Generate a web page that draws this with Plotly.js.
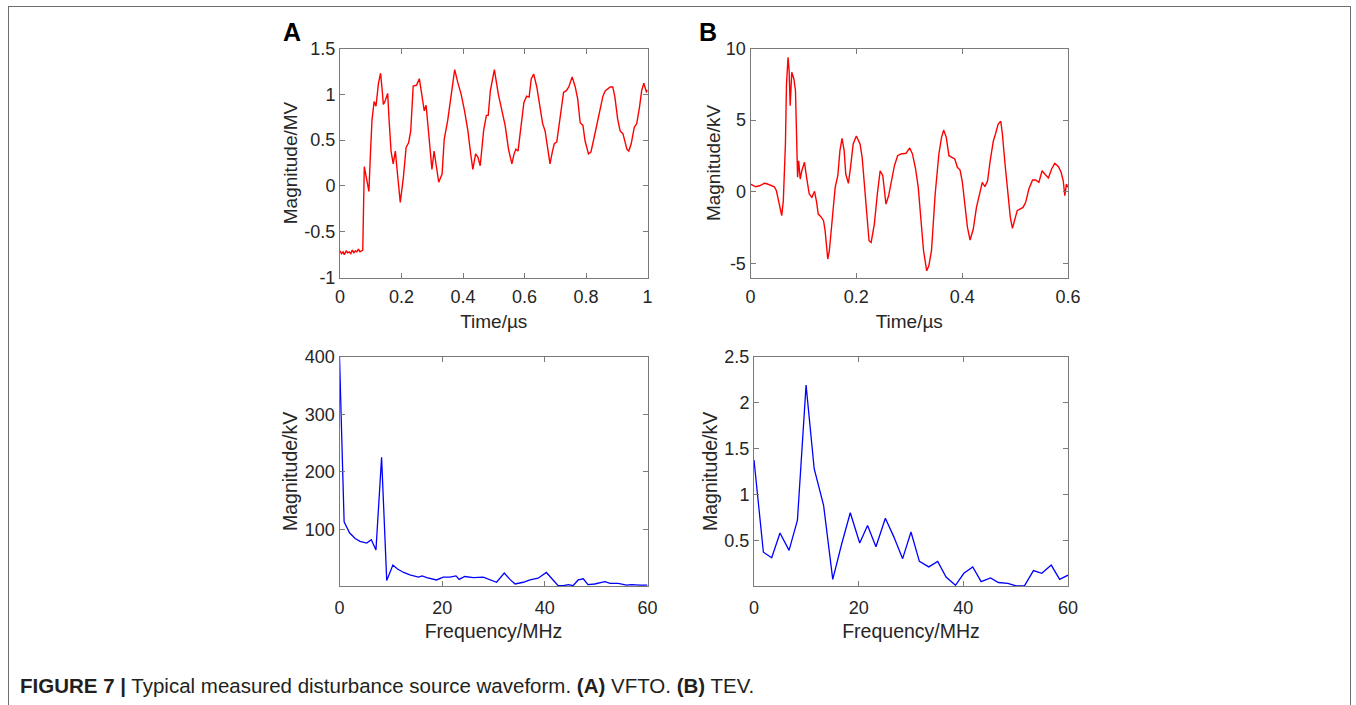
<!DOCTYPE html>
<html>
<head>
<meta charset="utf-8">
<script src="https://cdn.plot.ly/plotly-3.0.1.min.js"></script>
<style>
  html, body { margin: 0; padding: 0; background: #ffffff; }
  #frame { position: absolute; left: 8px; top: 6px; width: 1343px; height: 720px; border: 1.5px solid #6e6e6e; box-sizing: border-box; pointer-events: none; z-index: 2; }
  #chart { position: absolute; left: 0; top: 0; width: 1356px; height: 705px; }
</style>
</head>
<body>
<div id="chart"></div>
<div id="frame"></div>
<script>
// ---------- Panel A (VFTO) time-domain ----------
const timeA = [0, 0.005, 0.010, 0.014, 0.020, 0.025, 0.030, 0.035, 0.040, 0.045, 0.050, 0.055, 0.060, 0.065, 0.070, 0.074,
  0.079, 0.085, 0.090, 0.094, 0.099, 0.104, 0.111, 0.117, 0.125, 0.132, 0.137, 0.141, 0.147, 0.155, 0.160, 0.166, 0.173,
  0.180, 0.187, 0.196, 0.206, 0.215, 0.223, 0.230, 0.238, 0.249, 0.258, 0.267, 0.274, 0.280, 0.290, 0.299, 0.306, 0.312,
  0.321, 0.332, 0.339, 0.350, 0.361, 0.373, 0.383, 0.394, 0.405, 0.416, 0.425, 0.432, 0.441, 0.449, 0.456, 0.467, 0.476,
  0.482, 0.489, 0.502, 0.515, 0.526, 0.537, 0.548, 0.559, 0.566, 0.572, 0.579, 0.588, 0.598, 0.607, 0.615, 0.622, 0.630,
  0.640, 0.650, 0.659, 0.667, 0.674, 0.683, 0.691, 0.697, 0.705, 0.716, 0.727, 0.736, 0.744, 0.755, 0.765, 0.773, 0.781,
  0.790, 0.797, 0.808, 0.816, 0.824, 0.835, 0.844, 0.855, 0.863, 0.870, 0.879, 0.887, 0.894, 0.903, 0.911, 0.920, 0.927,
  0.933, 0.939, 0.947, 0.957, 0.965, 0.974, 0.981, 0.988, 0.997, 1.0];
const vfto = [-0.71, -0.74, -0.72, -0.75, -0.71, -0.73, -0.72, -0.74, -0.70, -0.73, -0.71, -0.72, -0.69, -0.72, -0.71, -0.70,
  0.21, 0.10, -0.02, -0.06, 0.35, 0.72, 0.92, 0.87, 1.12, 1.23, 1.05, 0.89, 0.93, 1.01, 0.70, 0.38, 0.24,
  0.38, 0.13, -0.18, 0.09, 0.42, 0.47, 0.60, 1.09, 1.10, 1.17, 0.97, 0.82, 0.88, 0.50, 0.18, 0.38, 0.24,
  0.04, 0.13, 0.51, 0.71, 0.97, 1.27, 1.13, 1.00, 0.82, 0.60, 0.35, 0.18, 0.35, 0.31, 0.22, 0.60, 0.77,
  0.77, 1.04, 1.27, 1.00, 0.84, 0.66, 0.40, 0.24, 0.35, 0.40, 0.38, 0.64, 0.91, 0.98, 0.97, 1.17, 1.22,
  1.08, 0.86, 0.68, 0.60, 0.46, 0.24, 0.38, 0.46, 0.48, 0.75, 1.02, 1.04, 1.08, 1.19, 1.08, 0.95, 0.69,
  0.66, 0.49, 0.35, 0.37, 0.49, 0.66, 0.78, 0.98, 1.04, 1.06, 1.08, 1.08, 0.97, 0.73, 0.60, 0.57, 0.46,
  0.40, 0.38, 0.46, 0.64, 0.68, 0.86, 1.04, 1.12, 1.02, 1.05];

// ---------- Panel B (TEV) time-domain ----------
const timeB = [0, 0.005, 0.010, 0.017, 0.022, 0.026, 0.031, 0.036, 0.040, 0.045, 0.049, 0.053, 0.059, 0.062, 0.066, 0.068,
  0.071, 0.073, 0.075, 0.078, 0.082, 0.085, 0.087, 0.089, 0.091, 0.094, 0.097, 0.102, 0.106, 0.111, 0.116, 0.121, 0.125,
  0.128, 0.133, 0.138, 0.141, 0.146, 0.149, 0.153, 0.157, 0.160, 0.165, 0.169, 0.173, 0.177, 0.180, 0.185, 0.189, 0.194,
  0.200, 0.207, 0.211, 0.215, 0.220, 0.224, 0.228, 0.234, 0.240, 0.245, 0.250, 0.256, 0.261, 0.266, 0.272, 0.278, 0.284,
  0.294, 0.301, 0.306, 0.312, 0.317, 0.322, 0.327, 0.333, 0.337, 0.342, 0.349, 0.356, 0.361, 0.365, 0.370, 0.375, 0.380,
  0.386, 0.391, 0.396, 0.400, 0.405, 0.410, 0.415, 0.421, 0.427, 0.434, 0.438, 0.443, 0.448, 0.453, 0.459, 0.463, 0.468,
  0.473, 0.476, 0.481, 0.486, 0.491, 0.495, 0.499, 0.504, 0.509, 0.515, 0.520, 0.526, 0.533, 0.539, 0.545, 0.551, 0.556,
  0.563, 0.569, 0.575, 0.582, 0.587, 0.591, 0.594, 0.597, 0.600];
const tev = [0.53, 0.45, 0.34, 0.41, 0.50, 0.58, 0.55, 0.48, 0.45, 0.34, 0.06, -0.64, -1.68, -0.64, 3.33, 7.52,
  9.38, 8.45, 6.00, 8.34, 7.87, 7.05, 4.49, 1.00, 2.16, 0.88, 1.46, 2.05, 1.00, -0.17, -0.40, 0.02, -0.75,
  -1.57, -1.75, -2.03, -2.73, -4.71, -4.13, -2.38, -0.64, 0.30, 1.11, 2.86, 3.72, 2.86, 1.23, 0.58, 1.70, 3.33,
  3.89, 3.33, 2.40, 0.53, -1.80, -3.43, -3.55, -2.27, -0.06, 1.46, 1.11, -0.87, -0.29, 0.76, 1.81, 2.51, 2.63,
  2.68, 3.05, 2.63, 1.58, 0.30, -2.03, -4.13, -5.53, -5.18, -4.13, -0.17, 2.63, 3.79, 4.30, 3.79, 2.51, 2.40,
  2.28, 1.70, 1.51, 0.76, -0.87, -2.50, -3.38, -2.61, -1.10, 0.06, 0.65, 0.34, 0.76, 2.16, 3.56, 4.03, 4.72,
  4.91, 4.03, 1.93, -0.17, -1.80, -2.56, -2.03, -1.33, -1.22, -1.10, -0.75, 0.18, 0.81, 0.81, 0.65, 1.46, 1.23,
  0.95, 1.58, 1.98, 1.74, 1.35, 0.76, -0.29, 0.53, 0.30];

// ---------- Panel A spectrum ----------
const freqA = [0, 0.9, 1.95, 3.05, 4.0, 5.3, 6.2, 7.1, 8.2, 9.2, 10.4, 11.3, 12.5, 13.7, 15.4, 16.1, 17.0, 18.9, 20.2,
  21.5, 22.7, 23.3, 24.4, 26.1, 28.0, 29.3, 30.6, 32.1, 33.2, 34.2, 35.8, 37.1, 38.7, 40.3, 41.6, 42.6, 43.6, 44.6,
  45.5, 46.5, 47.5, 48.4, 49.7, 51.7, 52.7, 54.3, 55.9, 56.9, 58.5, 60.0];
const specA = [400, 113, 94, 84, 79, 76, 82, 64, 225, 11, 38, 31, 25, 21, 17, 19, 16, 12, 17,
  17, 19, 13, 18, 16, 17, 13, 8, 24, 13, 5, 8, 12, 15, 25, 12, 2, 2, 4,
  2, 12, 14, 4, 5, 9, 6, 6, 3, 4, 3, 3];

// ---------- Panel B spectrum ----------
const freqB = [0, 1.79, 3.38, 4.97, 6.7, 8.3, 9.95, 11.5, 13.3, 15.05, 16.8, 18.4, 20.2, 21.7, 23.3, 25.1, 26.7, 28.4,
  30.0, 31.6, 33.4, 35.1, 36.7, 38.5, 40.1, 41.8, 43.4, 45.2, 46.7, 48.5, 50.1, 51.7, 53.4, 55.0, 56.8, 58.4, 60.0];
const specB = [1.375, 0.37, 0.31, 0.58, 0.39, 0.72, 2.19, 1.28, 0.88, 0.075, 0.47, 0.80, 0.47, 0.66, 0.43, 0.74, 0.54, 0.30,
  0.59, 0.27, 0.21, 0.27, 0.10, 0.01, 0.14, 0.21, 0.05, 0.09, 0.04, 0.03, 0.003, 0.006, 0.17, 0.14, 0.23, 0.075, 0.12];

// ---------- Tick values / labels ----------
const tickA_x = [0, 0.2, 0.4, 0.6, 0.8, 1];
const tickA_xText = ['0', '0.2', '0.4', '0.6', '0.8', '1'];
const tickA_y = [-1, -0.5, 0, 0.5, 1, 1.5];
const tickA_yText = ['-1', '-0.5', '0', '0.5', '1', '1.5'];
const tickB_x = [0, 0.2, 0.4, 0.6];
const tickB_xText = ['0', '0.2', '0.4', '0.6'];
const tickB_y = [-5, 0, 5, 10];
const tickB_yText = ['-5', '0', '5', '10'];
const tickF_x = [0, 20, 40, 60];
const tickF_xText = ['0', '20', '40', '60'];
const tickSA_y = [100, 200, 300, 400];
const tickSA_yText = ['100', '200', '300', '400'];
const tickSB_y = [0.5, 1, 1.5, 2, 2.5];
const tickSB_yText = ['0.5', '1', '1.5', '2', '2.5'];

const W = 1356, H = 705;
const dx = (a, b) => [a / W, b / W];
const dy = (top, bot) => [1 - bot / H, 1 - top / H];
const FONT = 'Liberation Sans, Arial, Helvetica, sans-serif';
const TXT = '#262626';
const AX = '#7a7a7a';

function axis(extra) {
  return Object.assign({
    showline: true, linecolor: AX, linewidth: 1, mirror: 'ticks',
    ticks: 'inside', ticklen: 5, tickcolor: AX, tickwidth: 1,
    showgrid: false, zeroline: false, tickmode: 'array',
    tickfont: { family: FONT, size: 18, color: TXT },
    fixedrange: true
  }, extra);
}

const traces = [
  { x: timeA, y: vfto, type: 'scatter', mode: 'lines', line: { color: '#ff0000', width: 1.4 }, xaxis: 'x', yaxis: 'y', showlegend: false, hoverinfo: 'skip' },
  { x: timeB, y: tev, type: 'scatter', mode: 'lines', line: { color: '#ff0000', width: 1.4 }, xaxis: 'x2', yaxis: 'y2', showlegend: false, hoverinfo: 'skip' },
  { x: freqA, y: specA, type: 'scatter', mode: 'lines', line: { color: '#0000ff', width: 1.3 }, xaxis: 'x3', yaxis: 'y3', showlegend: false, hoverinfo: 'skip' },
  { x: freqB, y: specB, type: 'scatter', mode: 'lines', line: { color: '#0000ff', width: 1.3 }, xaxis: 'x4', yaxis: 'y4', showlegend: false, hoverinfo: 'skip' }
];

const titleFont = (s) => ({ family: FONT, size: s, color: TXT });

const layout = {
  width: W, height: H,
  margin: { l: 0, r: 0, t: 0, b: 0 },
  paper_bgcolor: '#ffffff', plot_bgcolor: '#ffffff',
  showlegend: false,
  xaxis: axis({ domain: dx(340, 647.5), range: [0, 1], anchor: 'y', tickvals: tickA_x, ticktext: tickA_xText,
    ticklabelstandoff: 3, title: { text: 'Time/µs', font: titleFont(19), standoff: 8 } }),
  yaxis: axis({ domain: dy(48.5, 277.5), range: [-1, 1.5], anchor: 'x', tickvals: tickA_y, ticktext: tickA_yText,
    title: { text: 'Magnitude/MV', font: titleFont(19), standoff: 1.5 } }),
  xaxis2: axis({ domain: dx(750.5, 1068), range: [0, 0.6], anchor: 'y2', tickvals: tickB_x, ticktext: tickB_xText,
    ticklabelstandoff: 3, title: { text: 'Time/µs', font: titleFont(19), standoff: 8 } }),
  yaxis2: axis({ domain: dy(48.5, 277.5), range: [-6, 10], anchor: 'x2', tickvals: tickB_y, ticktext: tickB_yText,
    title: { text: 'Magnitude/kV', font: titleFont(19), standoff: 0 } }),
  xaxis3: axis({ domain: dx(339.5, 647.5), range: [0, 60], anchor: 'y3', tickvals: tickF_x, ticktext: tickF_xText,
    ticklabelstandoff: 5, title: { text: 'Frequency/MHz', font: titleFont(19.5), standoff: 7 } }),
  yaxis3: axis({ domain: dy(356.7, 586), range: [1.5, 400], anchor: 'x3', tickvals: tickSA_y, ticktext: tickSA_yText,
    title: { text: 'Magnitude/kV', font: titleFont(19.5), standoff: 2 } }),
  xaxis4: axis({ domain: dx(754, 1068), range: [0, 60], anchor: 'y4', tickvals: tickF_x, ticktext: tickF_xText,
    ticklabelstandoff: 5, title: { text: 'Frequency/MHz', font: titleFont(19.5), standoff: 7 } }),
  yaxis4: axis({ domain: dy(356.7, 586), range: [0.002, 2.5], anchor: 'x4', tickvals: tickSB_y, ticktext: tickSB_yText,
    title: { text: 'Magnitude/kV', font: titleFont(19.5), standoff: 1 } }),
  annotations: [
    { text: '<b>A</b>', xref: 'paper', yref: 'paper', x: 292 / W, y: 1 - 32 / H, xanchor: 'center', yanchor: 'middle',
      showarrow: false, font: { family: FONT, size: 25, color: '#000000' } },
    { text: '<b>B</b>', xref: 'paper', yref: 'paper', x: 708 / W, y: 1 - 32 / H, xanchor: 'center', yanchor: 'middle',
      showarrow: false, font: { family: FONT, size: 25, color: '#000000' } },
    { text: '<b>FIGURE 7 |</b> Typical measured disturbance source waveform. <b>(A)</b> VFTO. <b>(B)</b> TEV.',
      xref: 'paper', yref: 'paper', x: 18 / W, y: 1 - 685 / H, xanchor: 'left', yanchor: 'middle',
      showarrow: false, font: { family: FONT, size: 20.5, color: '#231f20' } }
  ]
};

Plotly.newPlot('chart', traces, layout, { displayModeBar: false, staticPlot: true });
</script>
</body>
</html>
